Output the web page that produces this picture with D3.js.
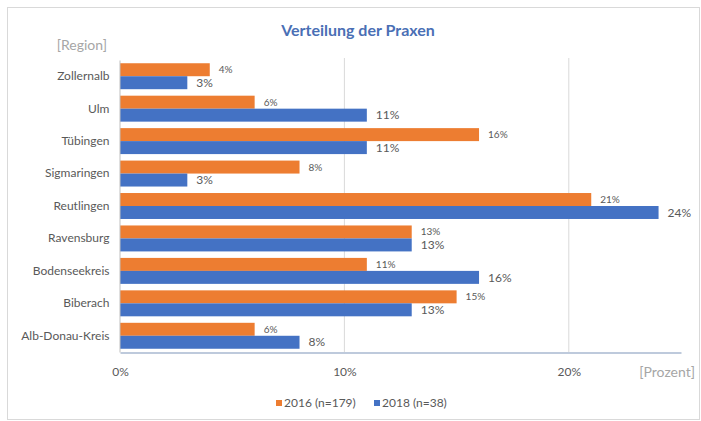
<!DOCTYPE html>
<html>
<head>
<meta charset="utf-8">
<script src="https://cdn.jsdelivr.net/npm/d3@7"></script>
<style>
  html, body { margin: 0; padding: 0; background: #fff; }
  svg text { font-family: Lato, "Open Sans", sans-serif; }
</style>
</head>
<body>
<svg id="chart" width="701" height="421"></svg>
<script>
const categories = ["Zollernalb", "Ulm", "Tübingen", "Sigmaringen", "Reutlingen", "Ravensburg", "Bodenseekreis", "Biberach", "Alb-Donau-Kreis"];
const seriesNames = ["2016 (n=179)", "2018 (n=38)"];
const values2016 = [4, 6, 16, 8, 21, 13, 11, 15, 6];
const values2018 = [3, 11, 11, 3, 24, 13, 16, 13, 8];
const xTicks = [0, 10, 20];
const title = "Verteilung der Praxen";

const colors = ["#ED7D31", "#4472C4"];
const series = [values2016, values2018];

const svg = d3.select("#chart");
const W = 701, H = 421;
const margin = { left: 120, right: 20, top: 60, bottom: 69 };
const x0 = margin.left, x1 = 681;
const yTop = margin.top, yBottom = 352;

// frame
svg.append("rect").attr("x", 7.5).attr("y", 7.5).attr("width", 692).attr("height", 412)
  .attr("fill", "#fff").attr("stroke", "#d9d9d9");

const x = d3.scaleLinear().domain([0, 25]).range([x0, x1]);
const y = d3.scaleBand().domain(categories).range([yTop, yBottom]).paddingInner(0.2).paddingOuter(0.1);
const ySub = d3.scaleBand().domain([0, 1]).range([0, y.bandwidth()]);

// gridlines
svg.append("g").selectAll("line").data(xTicks.filter(t => t > 0)).join("line")
  .attr("x1", d => x(d)).attr("x2", d => x(d))
  .attr("y1", 58).attr("y2", yBottom)
  .attr("stroke", "#d9d9d9").attr("stroke-width", 1);

// bars
series.forEach((vals, si) => {
  svg.append("g").selectAll("rect").data(vals).join("rect")
    .attr("x", x(0))
    .attr("y", (d, i) => y(categories[i]) + ySub(si))
    .attr("width", d => x(d) - x(0))
    .attr("height", ySub.bandwidth())
    .attr("fill", colors[si]);
});

// value labels
series.forEach((vals, si) => {
  svg.append("g").selectAll("text").data(vals).join("text")
    .attr("x", d => x(d) + 9)
    .attr("y", (d, i) => y(categories[i]) + ySub(si) + ySub.bandwidth() / 2)
    .attr("dy", "0.35em")
    .attr("font-size", si === 0 ? 10 : 12)
    .attr("fill", "#595959")
    .text(d => d + "%");
});

// x axis
const xAxis = svg.append("g").attr("transform", `translate(0,${yBottom + 0.5})`)
  .call(d3.axisBottom(x).tickValues(xTicks).tickSize(0).tickPadding(15).tickFormat(d => d + "%"));
xAxis.select(".domain").attr("stroke", "#a9b9d0").attr("stroke-width", 1.5);
xAxis.selectAll("text").attr("font-size", 12).attr("fill", "#595959")
  .style("font-family", "Lato, 'Open Sans', sans-serif");

// y axis
const yAxis = svg.append("g").attr("transform", `translate(${x0 - 0.5},0)`)
  .call(d3.axisLeft(y).tickSize(0).tickPadding(10));
yAxis.select(".domain").attr("stroke", "#bfbfbf").attr("stroke-width", 1);
yAxis.selectAll("text").attr("font-size", 12).attr("fill", "#595959")
  .style("font-family", "Lato, 'Open Sans', sans-serif");

// title
svg.append("text").attr("x", 358).attr("y", 36).attr("text-anchor", "middle")
  .attr("font-size", 16).attr("font-weight", "bold").attr("fill", "#4A6FB5").text(title);

// axis titles
svg.append("text").attr("x", 107).attr("y", 50).attr("text-anchor", "end")
  .attr("font-size", 14).attr("fill", "#a6a6a6").text("[Region]");
svg.append("text").attr("x", 695).attr("y", 377).attr("text-anchor", "end")
  .attr("font-size", 14).attr("fill", "#a6a6a6").text("[Prozent]");

// legend
const legendX = [276, 374];
const lg = svg.append("g");
seriesNames.forEach((name, i) => {
  lg.append("rect").attr("x", legendX[i]).attr("y", 400).attr("width", 6).attr("height", 6).attr("fill", colors[i]);
  lg.append("text").attr("x", legendX[i] + 8).attr("y", 403).attr("dy", "0.35em")
    .attr("font-size", 12).attr("fill", "#595959").text(name);
});
</script>
</body>
</html>
